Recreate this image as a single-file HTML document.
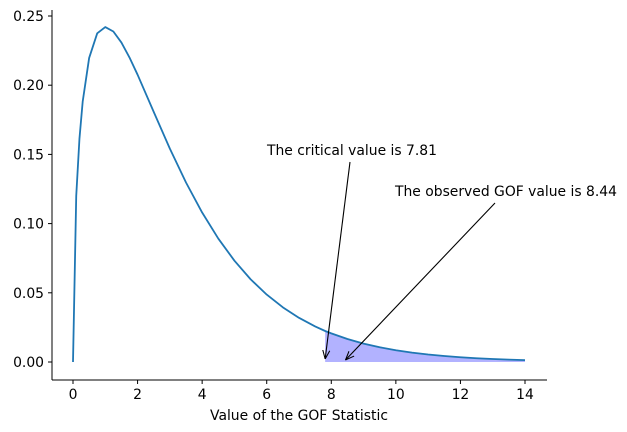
<!DOCTYPE html>
<html><head><meta charset="utf-8"><style>
body{margin:0;background:#fff;}
svg{display:block;font-family:"DejaVu Sans","Liberation Sans",sans-serif;}
</style></head><body>
<svg id="chart" width="627" height="432" viewBox="0 0 627 432">
<defs><marker id="ah" viewBox="0 0 10 10" refX="10" refY="5" markerWidth="8" markerHeight="8" orient="auto-start-reverse"><path d="M0,1 L10,5 L0,9" fill="none" stroke="#000" stroke-width="1.2"/></marker></defs>
<g id="plot"></g>
</svg>
<script>
const xValues=[0,0.1,0.2,0.3,0.5,0.75,1,1.25,1.5,1.75,2,2.5,3,3.5,4,4.5,5,5.5,6,6.5,7,7.5,7.81,8,8.5,9,9.5,10,10.5,11,11.5,12,12.5,13,13.5,14];
const densityValues=[0,0.1200,0.1614,0.1881,0.2197,0.2375,0.2420,0.2388,0.2308,0.2200,0.2076,0.1807,0.1542,0.1297,0.1080,0.0892,0.0732,0.0598,0.0487,0.0395,0.0319,0.0257,0.0224,0.0207,0.0166,0.0133,0.01064,0.0085,0.00678,0.00541,0.00431,0.00343,0.00272,0.00216,0.00172,0.00136];
const xTicks=[0,2,4,6,8,10,12,14];
const yTicks=[0,0.05,0.10,0.15,0.20,0.25];
const yTickLabels=["0.00","0.05","0.10","0.15","0.20","0.25"];
const criticalValue=7.81;
const observedValue=8.44;

const NS="http://www.w3.org/2000/svg";
const g=document.getElementById('plot');
const X=v=>73+v*(525-73)/14;
const Y=v=>362-v*(362-16)/0.25;
const FS=13.9;
function el(t,a,txt){const e=document.createElementNS(NS,t);for(const k in a)e.setAttribute(k,a[k]);if(txt!==undefined)e.textContent=txt;g.appendChild(e);return e;}

let pts=[];
for(let i=0;i<xValues.length;i++){if(xValues[i]>=criticalValue)pts.push(X(xValues[i])+','+Y(densityValues[i]));}
let poly=X(criticalValue)+','+Y(0)+' '+pts.join(' ')+' '+X(xValues[xValues.length-1])+','+Y(0);
const area=el('polygon',{points:poly,fill:'#0000ff','fill-opacity':0.3,stroke:'none'});



const line=el('polyline',{points:xValues.map((x,i)=>X(x)+','+Y(densityValues[i])).join(' '),fill:'none',stroke:'#1f77b4','stroke-width':1.8,'stroke-linejoin':'round'});



const ls=el('line',{x1:52,y1:10,x2:52,y2:380,stroke:'#000','stroke-width':1});


const bs=el('line',{x1:52,y1:380,x2:547,y2:380,stroke:'#000','stroke-width':1});



xTicks.forEach(t=>{
  el('line',{x1:X(t),y1:380,x2:X(t),y2:384,stroke:'#000'});
  const l=el('text',{x:X(t),y:399,'text-anchor':'middle','font-size':FS},String(t));
  
  
});
yTicks.forEach((t,i)=>{
  el('line',{x1:48,y1:Y(t),x2:52,y2:Y(t),stroke:'#000'});
  const l=el('text',{x:44,y:Y(t)+5,'text-anchor':'end','font-size':FS},yTickLabels[i]);
  
  
});
const xl=el('text',{x:299,y:420,'text-anchor':'middle','font-size':FS},'Value of the GOF Statistic');



const t1=el('text',{x:267,y:155,'font-size':FS},'The critical value is '+criticalValue.toFixed(2));


const a1=el('line',{x1:350,y1:162,x2:X(criticalValue),y2:Y(0)-3,stroke:'#000','stroke-width':1.1,'marker-end':'url(#ah)'});


const t2=el('text',{x:395,y:196,'font-size':FS},'The observed GOF value is '+observedValue.toFixed(2));


const a2=el('line',{x1:495,y1:203,x2:X(observedValue),y2:Y(0)-2,stroke:'#000','stroke-width':1.1,'marker-end':'url(#ah)'});


</script>
</body></html>
